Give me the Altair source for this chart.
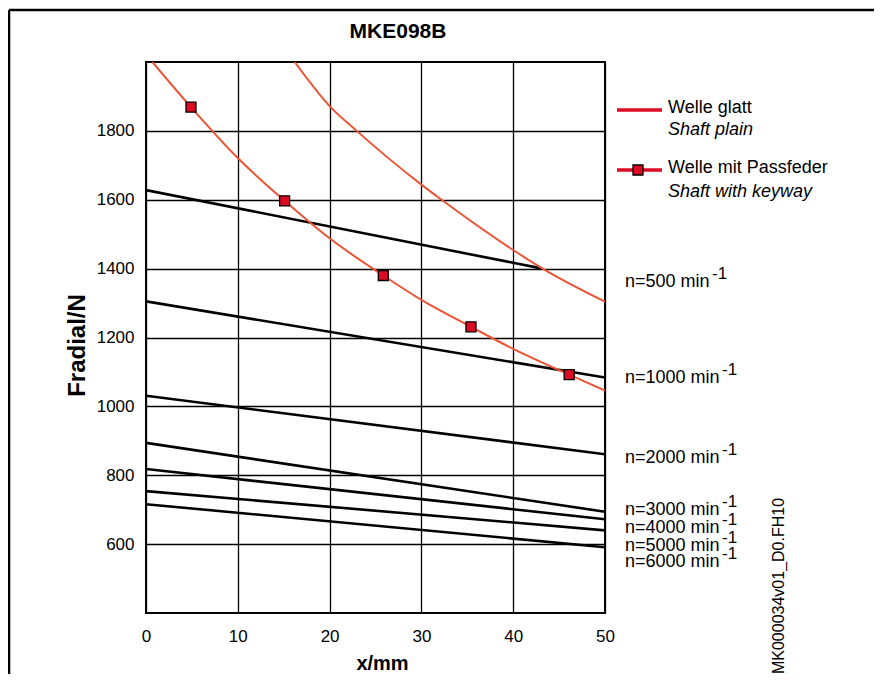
import altair as alt
import pandas as pd

FONT = "Liberation Sans"
W, H = 459, 551

chart_title = "MKE098B"
x_title = "x/mm"
y_title = "Fradial/N"
x_ticks = [0, 10, 20, 30, 40, 50]
y_ticks = [600, 800, 1000, 1200, 1400, 1600, 1800]

# speed lines (linear): start / end points
speed_names = ["n=500 min", "n=1000 min", "n=2000 min", "n=3000 min",
               "n=4000 min", "n=5000 min", "n=6000 min"]
speed_x0 = [0, 0, 0, 0, 0, 0, 0]
speed_x1 = [43.2, 50, 50, 50, 50, 50, 50]
speed_y0 = [1628, 1305, 1031, 894, 818, 754, 716]
speed_y1 = [1400, 1084, 861, 694, 672, 640, 591]
speed_label_y = [1360, 1082, 850, 700, 648, 596, 549]
exponent = "-1"

# red curves
plain_x = [16.2, 20, 22.95, 30, 32.2, 40, 43.2, 50]
plain_y = [2000, 1872, 1800, 1644, 1600, 1454, 1400, 1304]
key_x = [0.7, 4.9, 10, 15.1, 20, 25.85, 30, 35.4, 40, 46.1, 50]
key_y = [2000, 1869, 1721, 1597, 1488, 1380, 1309, 1231, 1167, 1092, 1046]
marker_x = [4.9, 15.1, 25.85, 35.4, 46.1]
marker_y = [1869, 1597, 1380, 1231, 1092]

legend_names = ["Welle glatt", "Welle mit Passfeder"]
legend_subs = ["Shaft plain", "Shaft with keyway"]
drawing_id = "MK000034v01_D0.FH10"

CURVE = "#eb5536"
RED = "#dc0a22"

rows = []
for n, x0, x1, y0, y1 in zip(speed_names, speed_x0, speed_x1, speed_y0, speed_y1):
    rows.append({"name": n, "x": x0, "y": y0})
    rows.append({"name": n, "x": x1, "y": y1})
speed_df = pd.DataFrame(rows)
label_df = pd.DataFrame({"name": speed_names, "y": speed_label_y, "sup": [exponent] * len(speed_names)})
plain_df = pd.DataFrame({"x": plain_x, "y": plain_y})
key_df = pd.DataFrame({"x": key_x, "y": key_y})
marker_df = pd.DataFrame({"x": marker_x, "y": marker_y})
one = pd.DataFrame({"k": [0]})

xscale = alt.Scale(domain=[0, 50], nice=False, zero=False)
yscale = alt.Scale(domain=[400, 2000], nice=False, zero=False)

xaxis = alt.Axis(values=x_ticks, title=x_title, grid=True, domain=False, ticks=False,
                 labelFlush=False, labelPadding=15, labelFontSize=17, labelFont=FONT,
                 labelColor="black", format="d",
                 gridColor="black", gridWidth=1.3, gridOpacity=1,
                 titleFont=FONT, titleFontSize=20, titleFontWeight="bold", titleColor="black",
                 titleX=236, titleY=56, titleAlign="center", titleBaseline="alphabetic")
yaxis = alt.Axis(values=y_ticks, title=y_title, grid=True, domain=False, ticks=False,
                 labelFlush=False, labelPadding=12, labelFontSize=17, labelFont=FONT,
                 labelColor="black", format="d",
                 gridColor="black", gridWidth=1.3, gridOpacity=1,
                 titleFont=FONT, titleFontSize=24, titleFontWeight="bold", titleColor="black",
                 titleAngle=270, titleX=-62, titleY=283, titleAlign="center",
                 titleBaseline="alphabetic")

X = alt.X("x:Q", scale=xscale, axis=xaxis)
Y = alt.Y("y:Q", scale=yscale, axis=yaxis)

speed_lines = alt.Chart(speed_df).mark_line(color="black", strokeWidth=2.6, clip=True).encode(
    x=X, y=Y, detail="name:N")
plain_line = alt.Chart(plain_df).mark_line(color=CURVE, strokeWidth=2, interpolate="monotone",
                                           clip=True).encode(x=X, y=Y)
key_line = alt.Chart(key_df).mark_line(color=CURVE, strokeWidth=2, interpolate="monotone",
                                       clip=True).encode(x=X, y=Y)
markers = alt.Chart(marker_df).mark_square(size=100, color=RED, opacity=1, filled=True,
                                           stroke="black", strokeWidth=1.3).encode(x=X, y=Y)

labels = alt.Chart(label_df).mark_text(align="left", baseline="middle", font=FONT, fontSize=18,
                                       color="black").encode(
    x=alt.value(479), y=Y, text="name:N")
sup_a = alt.Chart(label_df).transform_filter(alt.datum.name == speed_names[0]).mark_text(
    align="left", baseline="middle", font=FONT, fontSize=17, color="black", dy=-8).encode(
    x=alt.value(566), y=Y, text="sup:N")
sup_b = alt.Chart(label_df).transform_filter(alt.datum.name != speed_names[0]).mark_text(
    align="left", baseline="middle", font=FONT, fontSize=17, color="black", dy=-8).encode(
    x=alt.value(576), y=Y, text="sup:N")

legend_layers = []
line_y = [48, 108]
name_y = [51, 111]
sub_y = [73, 135]
for i in range(2):
    legend_layers.append(alt.Chart(one).mark_rule(color=RED, strokeWidth=3.5).encode(
        x=alt.value(471), x2=alt.value(516), y=alt.value(line_y[i])))
    legend_layers.append(alt.Chart(one).mark_text(
        text=legend_names[i], align="left", baseline="alphabetic", font=FONT, fontSize=18,
        color="black").encode(x=alt.value(522), y=alt.value(name_y[i])))
    legend_layers.append(alt.Chart(one).mark_text(
        text=legend_subs[i], align="left", baseline="alphabetic", font=FONT, fontSize=18,
        fontStyle="italic", color="black").encode(x=alt.value(522), y=alt.value(sub_y[i])))
legend_layers.append(alt.Chart(one).mark_square(size=100, color=RED, opacity=1, filled=True,
                                                stroke="black", strokeWidth=1.3).encode(
    x=alt.value(492), y=alt.value(108)))

title = alt.Chart(one).mark_text(text=chart_title, align="center", baseline="middle", font=FONT,
                                 fontSize=21, fontWeight="bold", color="black").encode(
    x=alt.value(252), y=alt.value(-30))
doc = alt.Chart(one).mark_text(text=drawing_id, align="center", baseline="middle", font=FONT,
                               fontSize=16, angle=270, color="black").encode(
    x=alt.value(633), y=alt.value(524))

frame = [
    alt.Chart(one).mark_rule(color="black", strokeWidth=2.5).encode(
        x=alt.value(-137), y=alt.value(-52), y2=alt.value(H + 70)),
    alt.Chart(one).mark_rule(color="black", strokeWidth=2.5).encode(
        x=alt.value(-137), x2=alt.value(733), y=alt.value(-52)),
    alt.Chart(one).mark_rule(color="black", strokeWidth=2.5).encode(
        x=alt.value(733), y=alt.value(-52), y2=alt.value(H + 70)),
]

chart = alt.layer(
    speed_lines, plain_line, key_line, markers, labels, sup_a, sup_b,
    *legend_layers, title, doc, *frame
).properties(
    width=W, height=H,
    autosize=alt.AutoSizeParams(type="none"),
    padding={"left": 138, "top": 54, "right": 269, "bottom": 61},
    background="white",
).configure_view(stroke="black", strokeWidth=2)

chart.save("out.html", embed_options={"renderer": "svg", "actions": False})
